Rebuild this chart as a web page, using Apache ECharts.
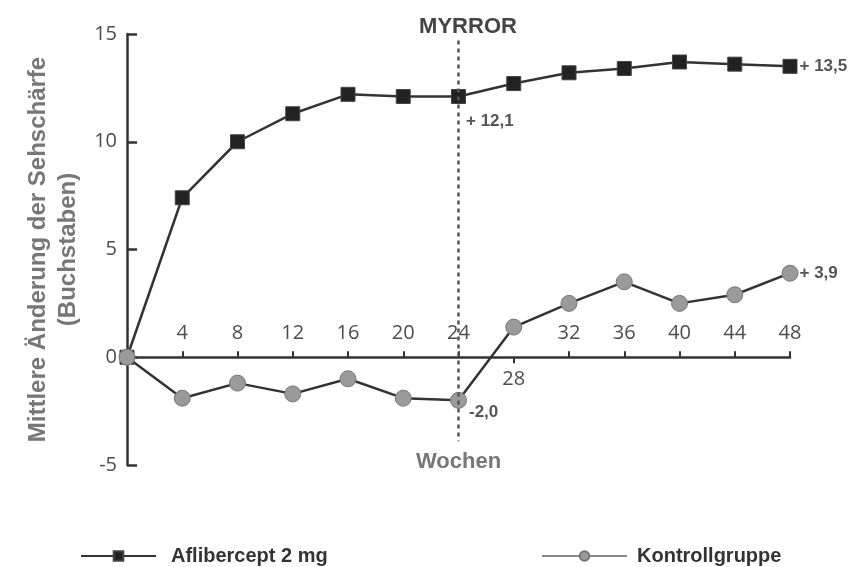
<!DOCTYPE html>
<html><head><meta charset="utf-8">
<script src="https://cdn.jsdelivr.net/npm/echarts@6/dist/echarts.min.js"></script>
<style>html,body{margin:0;padding:0;background:#fff}#c{width:850px;height:567px}</style>
</head><body><div id="c"></div>
<script>
const weeks = ['0','4','8','12','16','20','24','28','32','36','40','44','48'];
const aflibercept = [0, 7.4, 10.0, 11.3, 12.2, 12.1, 12.1, 12.7, 13.2, 13.4, 13.7, 13.6, 13.5];
const kontroll = [0, -1.9, -1.2, -1.7, -1.0, -1.9, -2.0, 1.4, 2.5, 3.5, 2.5, 2.9, 3.9];
const yTicks = [-5, 0, 5, 10, 15];

const numFont = "'Open Sans', 'Noto Sans', sans-serif";
const sans = "'Liberation Sans', Arial, sans-serif";
const fmt = v => (v > 0 ? '+ ' : '') + v.toFixed(1).replace('.', ',');

function labelled(arr, idxMap) {
  return arr.map((v, i) => idxMap[i] ? { value: v, label: Object.assign({ show: true, formatter: p => fmt(p.value), color: '#555', fontFamily: sans, fontWeight: 'bold', fontSize: 17 }, idxMap[i]) } : v);
}

const zeroOffset = -107.75;
const chart = echarts.init(document.getElementById('c'));
chart.setOption({
  animation: false,
  backgroundColor: '#fff',
  grid: { left: 127, right: 60, top: 34, bottom: 102 },
  title: { text: 'MYRROR', left: 463, top: 11, textAlign: 'center',
    textStyle: { fontFamily: sans, fontWeight: 'bold', fontSize: 22, color: '#444' } },
  legend: [
    { data: ['Aflibercept 2 mg'], left: 75, top: 541, itemWidth: 75, itemHeight: 12,
      textStyle: { fontFamily: sans, fontWeight: 'bold', fontSize: 20, color: '#333', padding: [0, 0, 0, 10] } },
    { data: [{ name: 'Kontrollgruppe', lineStyle: { color: '#888' } }], left: 536, top: 541, itemWidth: 85, itemHeight: 12,
      textStyle: { fontFamily: sans, fontWeight: 'bold', fontSize: 20, color: '#333', padding: [0, 0, 0, 5] } }
  ],
  xAxis: [
    { type: 'category', data: weeks, boundaryGap: false, position: 'bottom', offset: zeroOffset,
      axisLine: { onZero: false, lineStyle: { color: '#333', width: 2.5 } },
      axisTick: { show: true, inside: true, length: 6, lineStyle: { color: '#333', width: 2 },
        interval: (i, v) => v !== '0' && v !== '28' },
      axisLabel: { inside: true, margin: 14, fontFamily: numFont, fontSize: 20, color: '#4d4d4d',
        interval: (i, v) => v !== '0' && v !== '28' },
      splitLine: { show: false } },
    { type: 'category', data: weeks, boundaryGap: false, position: 'bottom', offset: zeroOffset,
      axisLine: { show: false, onZero: false },
      axisTick: { show: true, length: 6, lineStyle: { color: '#333', width: 2 },
        interval: (i, v) => v === '28' },
      axisLabel: { margin: 12, fontFamily: numFont, fontSize: 20, color: '#4d4d4d',
        interval: (i, v) => v === '28' },
      splitLine: { show: false } }
  ],
  yAxis: {
    type: 'value', min: yTicks[0], max: yTicks[yTicks.length - 1], interval: 5,
    name: 'Mittlere Änderung der Sehschärfe\n(Buchstaben)', nameLocation: 'middle', nameGap: 42,
    nameTextStyle: { fontFamily: sans, fontWeight: 'bold', fontSize: 24, color: '#777', lineHeight: 30 },
    axisLine: { show: true, lineStyle: { color: '#333', width: 2.5 } },
    axisTick: { show: true, inside: true, length: 10, lineStyle: { color: '#333', width: 2.5 } },
    axisLabel: { margin: 10, fontFamily: numFont, fontSize: 20, color: '#4d4d4d' },
    splitLine: { show: false }
  },
  series: [
    { name: 'Aflibercept 2 mg', type: 'line', xAxisIndex: 0,
      data: labelled(aflibercept, { 6: { position: 'right', offset: [-5, 25] }, 12: { position: 'right', offset: [-3, 0] } }),
      symbol: 'rect', symbolSize: 14,
      itemStyle: { color: '#222', borderColor: '#444', borderWidth: 1 },
      lineStyle: { color: '#333', width: 2.5 },
      markLine: { silent: true, symbol: 'none',
        lineStyle: { color: '#555', type: [4, 4], width: 2.5 },
        label: { show: true, position: 'end', formatter: 'Wochen', fontFamily: sans, fontWeight: 'bold', fontSize: 22, color: '#777', distance: 10 },
        data: [[{ coord: ['24', 14.7] }, { coord: ['24', -3.9] }]] } },
    { name: 'Kontrollgruppe', type: 'line', xAxisIndex: 0,
      data: labelled(kontroll, { 6: { position: 'right', offset: [-3, 12] }, 12: { position: 'right', offset: [-4, 0] } }),
      symbol: 'circle', symbolSize: 16,
      itemStyle: { color: '#9a9a9a', borderColor: '#777', borderWidth: 1 },
      lineStyle: { color: '#333', width: 2.5 } }
  ]
});
</script></body></html>
